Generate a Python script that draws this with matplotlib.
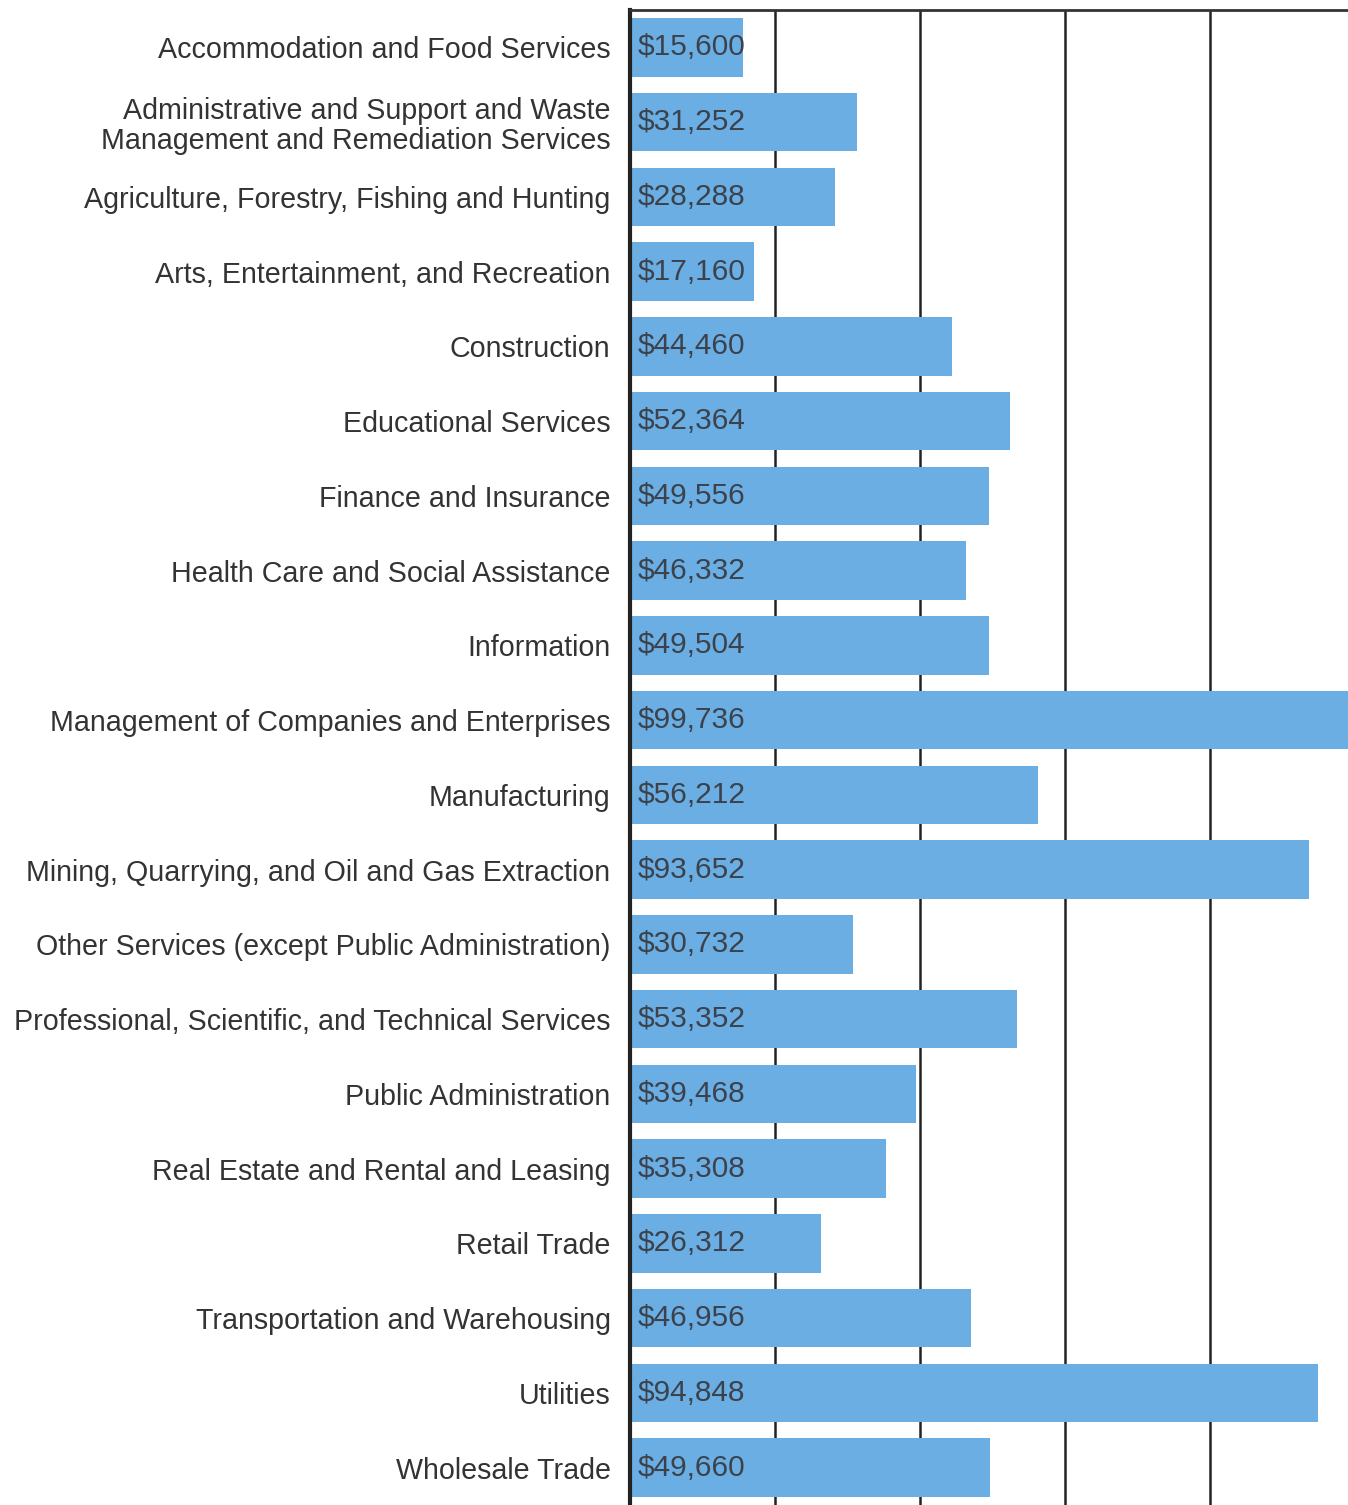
import matplotlib
matplotlib.use("Agg")
import matplotlib.pyplot as plt

plt.rcParams['font.family'] = ['Liberation Sans', 'DejaVu Sans']

industries = [
    "Accommodation and Food Services",
    "Administrative and Support and Waste\nManagement and Remediation Services",
    "Agriculture, Forestry, Fishing and Hunting",
    "Arts, Entertainment, and Recreation",
    "Construction",
    "Educational Services",
    "Finance and Insurance",
    "Health Care and Social Assistance",
    "Information",
    "Management of Companies and Enterprises",
    "Manufacturing",
    "Mining, Quarrying, and Oil and Gas Extraction",
    "Other Services (except Public Administration)",
    "Professional, Scientific, and Technical Services",
    "Public Administration",
    "Real Estate and Rental and Leasing",
    "Retail Trade",
    "Transportation and Warehousing",
    "Utilities",
    "Wholesale Trade",
]
wages = [15600, 31252, 28288, 17160, 44460, 52364, 49556, 46332, 49504, 99736,
         56212, 93652, 30732, 53352, 39468, 35308, 26312, 46956, 94848, 49660]

fig = plt.figure(figsize=(13.48, 15.05), dpi=100)
ax = fig.add_axes([630 / 1348, 0.0, 1 - 630 / 1348, 1 - 10 / 1505])

y = list(range(len(industries)))
ax.barh(y, wages, height=0.78, color='#6aaee4', zorder=2)
for yi, w in zip(y, wages):
    ax.text(1000, yi, "${:,}".format(w), va='center', ha='left',
            fontsize=21.5, color='#3c424c', zorder=3)

ax.set_xlim(0, 99000)
ax.set_ylim(19.5, -0.5)
ax.set_xticks([20000, 40000, 60000, 80000])
ax.set_xticklabels([])
ax.tick_params(axis='x', length=0)
ax.xaxis.grid(True, color='#222222', linewidth=1.8, zorder=1)
ax.set_axisbelow(True)

ax.set_yticks(y)
ax.set_yticklabels(industries, fontsize=20.6, color='#333333', linespacing=1.1)
ax.tick_params(axis='y', length=0, pad=14)
for lbl in ax.get_yticklabels():
    lbl.set_multialignment('right')

ax.spines['left'].set_linewidth(3)
ax.spines['left'].set_color('#222222')
ax.spines['top'].set_linewidth(2)
ax.spines['top'].set_color('#333333')
ax.spines['right'].set_visible(False)
ax.spines['bottom'].set_visible(False)

fig.savefig("out.png", dpi=100)
